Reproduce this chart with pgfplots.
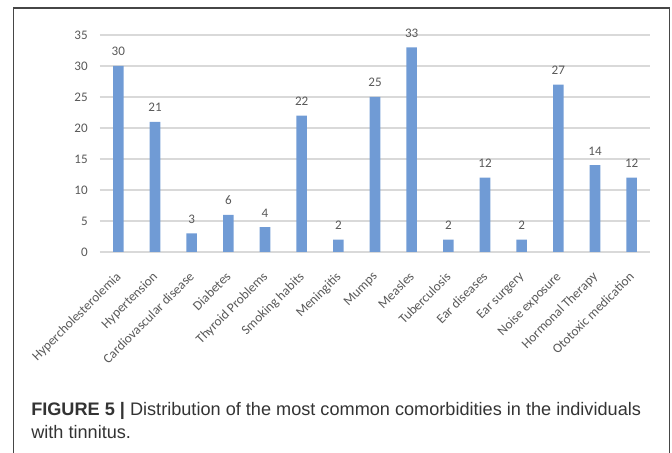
\documentclass[border=0pt]{standalone}
\usepackage{pgfplots}
\pgfplotsset{compat=1.18}
\usepackage{fontspec}
\setmainfont{Carlito}
\newfontfamily\capfont{Liberation Sans}

\definecolor{barblue}{RGB}{112,155,213}
\definecolor{gridgray}{RGB}{217,217,217}
\definecolor{labgray}{RGB}{89,89,89}
\definecolor{framegray}{RGB}{70,70,70}

\pgfplotstableread{
x y
0 30
1 21
2 3
3 6
4 4
5 22
6 2
7 25
8 33
9 2
10 12
11 2
12 27
13 14
14 12
}\comorb

\begin{document}
\begin{tikzpicture}
% 1 px of the reference = 0.75pt
\useasboundingbox (0pt,0pt) rectangle (504pt,339.75pt);
% frame round the figure, open at the bottom
\draw[framegray, line width=0.8pt] (10.1pt,-5pt) -- (10.1pt,333.75pt) -- (502.1pt,333.75pt) -- (502.1pt,-5pt);

\begin{axis}[
at={(75pt,150.75pt)}, anchor=south west,
scale only axis,
width=412.5pt, height=162.75pt,
xmin=-0.5, xmax=14.5,
ymin=0, ymax=35,
ytick={0,5,...,35},
xtick=data,
xticklabels={Hypercholesterolemia,Hypertension,Cardiovascular disease,Diabetes,Thyroid Problems,Smoking habits,Meningitis,Mumps,Measles,Tuberculosis,Ear diseases,Ear surgery,Noise exposure,Hormonal Therapy,Ototoxic medication},
axis line style={draw=none},
ymajorgrids,
grid style={gridgray, line width=0.9pt},
major tick length=0pt,
tick label style={labgray},
yticklabel style={font=\fontsize{9.8}{10}\selectfont, inner sep=0pt, xshift=-9pt},
xticklabel style={font=\fontsize{10}{11}\selectfont, xshift=-2.5pt, rotate=45, anchor=north east, inner sep=0pt},
xticklabel shift=14pt,
/pgf/number format/assume math mode=true,
clip=false,
]
\addplot[ybar, bar width=7.9pt, fill=barblue, draw=none,
  nodes near coords,
  nodes near coords style={font=\fontsize{9.8}{10}\selectfont, labgray, yshift=4pt}]
  table[x=x,y=y] {\comorb};
\end{axis}

\node[anchor=base west, inner sep=0pt, text=black!80, font=\capfont\fontsize{13.6}{15}\selectfont] at (23.25pt,27.75pt)
  {\textbf{FIGURE 5 |} Distribution of the most common comorbidities in the individuals};
\node[anchor=base west, inner sep=0pt, text=black!80, font=\capfont\fontsize{13.6}{15}\selectfont] at (23.25pt,10.5pt)
  {with tinnitus.};
\end{tikzpicture}
\end{document}
